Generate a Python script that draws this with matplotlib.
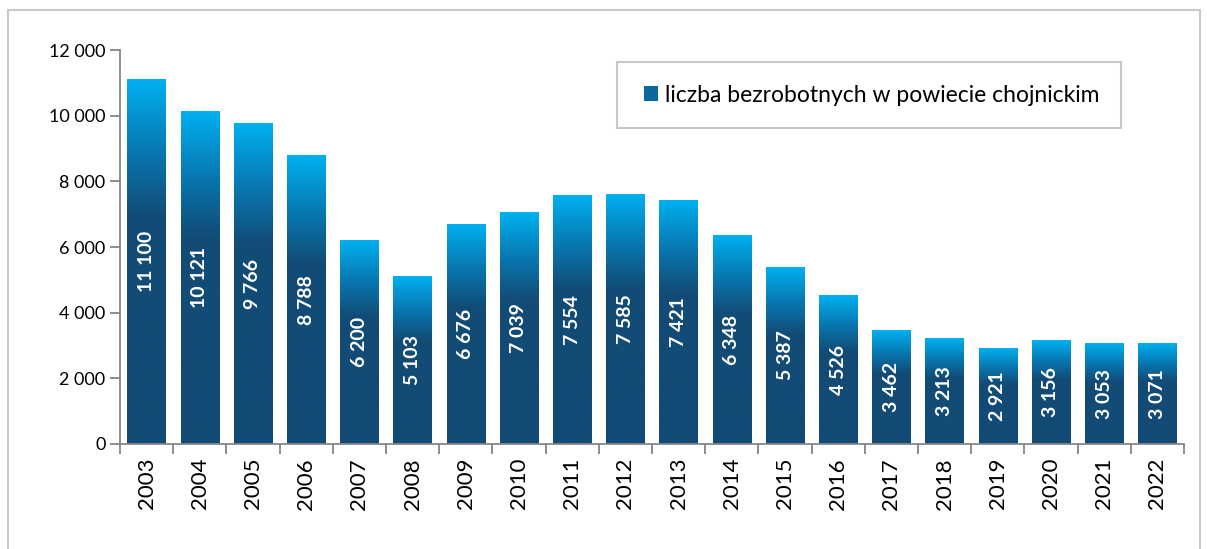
import numpy as np
import matplotlib.pyplot as plt
from matplotlib.colors import LinearSegmentedColormap
from matplotlib.patches import Rectangle
from matplotlib.ticker import FuncFormatter

# data
years = ['2003', '2004', '2005', '2006', '2007', '2008', '2009', '2010', '2011', '2012',
         '2013', '2014', '2015', '2016', '2017', '2018', '2019', '2020', '2021', '2022']
unemployed = [11100, 10121, 9766, 8788, 6200, 5103, 6676, 7039, 7554, 7585,
              7421, 6348, 5387, 4526, 3462, 3213, 2921, 3156, 3053, 3071]
legend_label = 'liczba bezrobotnych w powiecie chojnickim'

plt.rcParams['font.family'] = ['Lato', 'DejaVu Sans']

W, H = 1207, 549
fig = plt.figure(figsize=(W / 100, H / 100), dpi=100)
ax = fig.add_axes([120 / W, 1 - 444 / H, (1184 - 120) / W, (444 - 50) / H])

# outer frame (bottom edge is cut off in the original)
fig.patches.append(Rectangle((8 / W, -0.05), 1192 / W, 1.05 - 10 / H, transform=fig.transFigure,
                             fill=False, edgecolor='#c8c8c8', linewidth=1.5))

# gradient: light at top, dark navy from ~38% down
dark = '#124b75'
light = '#00b0f0'
cmap = LinearSegmentedColormap.from_list('bar', [(0, dark), (0.62, dark), (0.8, '#0877b0'), (1, light)])
grad = np.linspace(0, 1, 256).reshape(-1, 1)

width = 0.72
x = np.arange(len(years))
for xi, v in zip(x, unemployed):
    ax.imshow(grad, extent=[xi - width / 2, xi + width / 2, 0, v], origin='lower',
              aspect='auto', cmap=cmap, zorder=2)
    ax.text(xi, v / 2, f'{v:,}'.replace(',', ' '), rotation=90, ha='center', va='center',
            color='white', fontsize=14, fontweight='bold', zorder=3)

ax.set_xlim(-0.5, len(years) - 0.5)
ax.set_ylim(0, 12000)
ax.set_yticks(range(0, 12001, 2000))
ax.yaxis.set_major_formatter(FuncFormatter(lambda v, p: f'{int(v):,}'.replace(',', ' ')))
ax.set_xticks(x)
ax.set_xticklabels(years, rotation=90)
ax.set_xticks(np.arange(-0.5, len(years)), minor=True)
ax.tick_params(axis='x', which='major', length=0, labelsize=16, pad=10)
ax.tick_params(axis='x', which='minor', length=7, color='#868686', width=1.3)
ax.tick_params(axis='y', length=7, color='#868686', width=1.3, labelsize=13)

for s in ['top', 'right']:
    ax.spines[s].set_visible(False)
for s in ['left', 'bottom']:
    ax.spines[s].set_color('#868686')
    ax.spines[s].set_linewidth(1.3)

# legend box
fig.patches.append(Rectangle((617 / W, 1 - 128 / H), 504 / W, 66 / H, transform=fig.transFigure,
                             fill=False, edgecolor='#c8c8c8', linewidth=1.5))
handle = Rectangle((0, 0), 1, 1, facecolor='#0a6a9e')
leg = fig.legend([handle], [legend_label], loc='center', bbox_to_anchor=(872 / W, 1 - 95 / H),
                 fontsize=16.5, frameon=False, handlelength=0.6, handleheight=0.6, handletextpad=0.3)

fig.savefig('out.png', dpi=100)
